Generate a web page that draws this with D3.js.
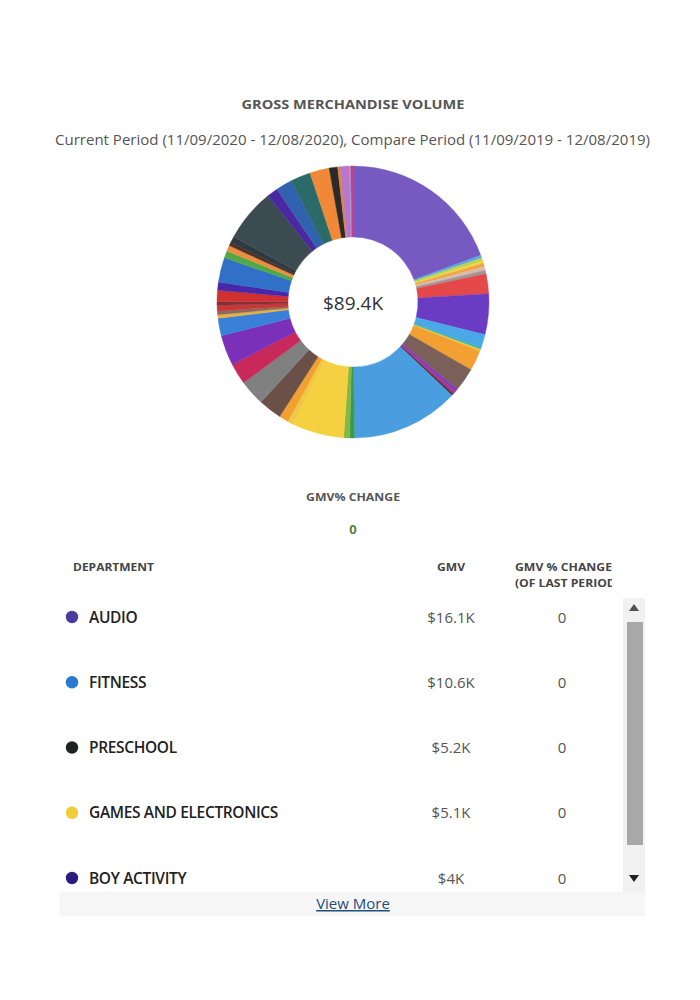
<!DOCTYPE html>
<html>
<head>
<meta charset="utf-8">
<script src="https://cdn.jsdelivr.net/npm/d3@7"></script>
<style>
  html, body { margin: 0; padding: 0; background: #fff; }
  svg { display: block; }
</style>
</head>
<body>
<svg id="chart" width="700" height="1000"></svg>
<script>
// ---- Data ----
const title = "GROSS MERCHANDISE VOLUME";
const subtitle = "Current Period (11/09/2020 - 12/08/2020), Compare Period (11/09/2019 - 12/08/2019)";
const centerLabel = "$89.4K";
const changeLabel = "GMV% CHANGE";
const changeValue = "0";

// Donut slices, clockwise from 12 o'clock (GMV in $K)
const sliceNames = [
  "AUDIO","Dept 2","Dept 3","Dept 4","Dept 5","Dept 6","Dept 7","Dept 8","BOY ACTIVITY","Dept 10",
  "Dept 11","Dept 12","Dept 13","Dept 14","Dept 15","Dept 16","Dept 17","FITNESS","Dept 19","Dept 20",
  "GAMES AND ELECTRONICS","Dept 22","Dept 23","Dept 24","Dept 25","Dept 26","Dept 27","Dept 28","Dept 29","Dept 30",
  "Dept 31","Dept 32","Dept 33","Dept 34","Dept 35","Dept 36","Dept 37","Dept 38","Dept 39","PRESCHOOL",
  "Dept 41","Dept 42","Dept 43","Dept 44","Dept 45","Dept 46","Dept 47","Dept 48","Dept 49"
];
const sliceValues = [
  16.1, 0.28, 0.30, 0.23, 0.35, 0.35, 0.35, 1.96, 4.0, 1.27,
  0.23, 0.18, 2.00, 2.30, 0.35, 0.23, 0.23, 10.6, 0.46, 0.58,
  5.1, 0.58, 0.92, 2.30, 2.53, 2.07, 2.99, 1.73, 0.35, 0.35,
  0.58, 0.35, 1.10, 0.81, 2.42, 0.69, 0.58, 0.35, 0.62, 5.2,
  1.08, 1.61, 1.98, 1.91, 0.83, 0.23, 0.92, 0.12, 0.23
];
const sliceColors = [
  "#7759c2","#5aa8e8","#b8d84a","#f2d444","#f2a444","#d6bcb0","#a49494","#e44848","#6a3cc4","#4aa8e6",
  "#3cb4b4","#e8c840","#f2a032","#7a6058","#8040b4","#c0288e","#4a3a4a","#4a9ee0","#3a9a50","#84b844",
  "#f5d142","#f0c844","#f2a030","#6b5048","#808080","#c8285a","#7a30b8","#3a80d8","#e6b040","#8a6a60",
  "#c83838","#803038","#d03030","#4828a8","#3070c8","#50a848","#e89040","#503028","#2e3a40","#3c4a52",
  "#4a28a0","#3062b0","#2a6a68","#f08838","#2a2a2a","#e08030","#b878c8","#90a0e8","#d04080"
];

// Table
const tableHeaders = ["DEPARTMENT", "GMV", "GMV % CHANGE", "(OF LAST PERIOD)"];
const tableDepartments = ["AUDIO", "FITNESS", "PRESCHOOL", "GAMES AND ELECTRONICS", "BOY ACTIVITY"];
const tableGmv = ["$16.1K", "$10.6K", "$5.2K", "$5.1K", "$4K"];
const tableChange = ["0", "0", "0", "0", "0"];
const tableColors = ["#4b3aa0", "#2a7ad0", "#1e2222", "#f0cc38", "#2c1c82"];
const viewMoreLabel = "View More";

// ---- Drawing ----
const svg = d3.select("#chart");
const cx = 353, cy = 302;
const headFont = "'Open Sans', 'Liberation Sans', sans-serif";

// Title
svg.append("text")
  .attr("x", cx).attr("y", 109)
  .attr("text-anchor", "middle")
  .attr("font-family", headFont).attr("font-weight", 700)
  .attr("font-size", 12.5).attr("fill", "#555")
  .attr("textLength", 223).attr("lengthAdjust", "spacingAndGlyphs")
  .text(title);

svg.append("text")
  .attr("x", 55).attr("y", 145)
  .attr("font-family", headFont)
  .attr("font-size", 14).attr("fill", "#555")
  .attr("textLength", 595).attr("lengthAdjust", "spacingAndGlyphs")
  .text(subtitle);

// Donut
const pie = d3.pie().value(d => d.value).sort(null).startAngle(0).endAngle(2 * Math.PI);
const arc = d3.arc().innerRadius(65).outerRadius(136);
const sliceData = sliceNames.map((n, i) => ({ name: n, value: sliceValues[i] }));
const color = d3.scaleOrdinal().domain(sliceNames).range(sliceColors);

const g = svg.append("g").attr("transform", `translate(${cx},${cy})`);
g.selectAll("path")
  .data(pie(sliceData))
  .join("path")
  .attr("d", arc)
  .attr("fill", d => color(d.data.name))
  .attr("stroke", d => color(d.data.name))
  .attr("stroke-width", 0.4);

g.append("text")
  .attr("x", 0).attr("y", 8)
  .attr("text-anchor", "middle")
  .attr("font-family", headFont)
  .attr("font-size", 19).attr("fill", "#333")
  .text(centerLabel);

// GMV% change
svg.append("text")
  .attr("x", cx).attr("y", 501)
  .attr("text-anchor", "middle")
  .attr("font-family", headFont).attr("font-weight", 700)
  .attr("font-size", 11).attr("fill", "#555")
  .attr("textLength", 94).attr("lengthAdjust", "spacingAndGlyphs")
  .text(changeLabel);

svg.append("text")
  .attr("x", cx).attr("y", 534)
  .attr("text-anchor", "middle")
  .attr("font-family", headFont).attr("font-weight", 700)
  .attr("font-size", 13).attr("fill", "#5f7f3c")
  .text(changeValue);

// Table header (clipped on the right)
const defs = svg.append("defs");
defs.append("clipPath").attr("id", "headClip")
  .append("rect").attr("x", 0).attr("y", 540).attr("width", 612).attr("height", 60);

const head = svg.append("g").attr("clip-path", "url(#headClip)")
  .attr("font-family", headFont).attr("font-weight", 700)
  .attr("font-size", 11).attr("fill", "#444");
head.append("text").attr("x", 73).attr("y", 571)
  .attr("textLength", 81).attr("lengthAdjust", "spacingAndGlyphs").text(tableHeaders[0]);
head.append("text").attr("x", 437).attr("y", 571)
  .attr("textLength", 28).attr("lengthAdjust", "spacingAndGlyphs").text(tableHeaders[1]);
head.append("text").attr("x", 515).attr("y", 571)
  .attr("textLength", 97).attr("lengthAdjust", "spacingAndGlyphs").text(tableHeaders[2]);
head.append("text").attr("x", 515).attr("y", 587)
  .attr("textLength", 105).attr("lengthAdjust", "spacingAndGlyphs").text(tableHeaders[3]);

// Table rows (scroll area clipped)
defs.append("clipPath").attr("id", "bodyClip")
  .append("rect").attr("x", 40).attr("y", 598).attr("width", 620).attr("height", 294);

const rowY = d3.scalePoint().domain(tableDepartments).range([617, 878]);
const body = svg.append("g").attr("clip-path", "url(#bodyClip)");
const rows = body.selectAll("g.row")
  .data(tableDepartments.map((d, i) => ({ name: d, gmv: tableGmv[i], change: tableChange[i], color: tableColors[i] })))
  .join("g").attr("class", "row")
  .attr("transform", d => `translate(0,${rowY(d.name)})`);

rows.append("circle").attr("cx", 72).attr("cy", 0).attr("r", 6.2).attr("fill", d => d.color);
rows.append("text").attr("x", 89).attr("y", 5.5)
  .attr("font-family", headFont).attr("font-weight", 600)
  .attr("font-size", 15.5).attr("fill", "#222")
  .attr("letter-spacing", -0.35)
  .text(d => d.name);
rows.append("text").attr("x", 451).attr("y", 5.5)
  .attr("text-anchor", "middle")
  .attr("font-family", headFont)
  .attr("font-size", 15).attr("fill", "#555")
  .text(d => d.gmv);
rows.append("text").attr("x", 562).attr("y", 5.5)
  .attr("text-anchor", "middle")
  .attr("font-family", headFont)
  .attr("font-size", 15).attr("fill", "#555")
  .text(d => d.change);

// Scrollbar
svg.append("rect").attr("x", 623).attr("y", 598).attr("width", 22).attr("height", 294).attr("fill", "#f1f1f1");
svg.append("rect").attr("x", 627).attr("y", 622).attr("width", 16).attr("height", 223).attr("fill", "#a8a8a8");
svg.append("path").attr("d", "M629,611 L639,611 L634,604 Z").attr("fill", "#505050");
svg.append("path").attr("d", "M629,875 L639,875 L634,882 Z").attr("fill", "#202020");

// View More bar
svg.append("rect").attr("x", 60).attr("y", 892).attr("width", 585).attr("height", 24).attr("fill", "#f6f6f6");
svg.append("text")
  .attr("x", cx).attr("y", 909)
  .attr("text-anchor", "middle")
  .attr("font-family", headFont)
  .attr("font-size", 15).attr("fill", "#1f4e79")
  .attr("text-decoration", "underline")
  .text(viewMoreLabel);
</script>
</body>
</html>
